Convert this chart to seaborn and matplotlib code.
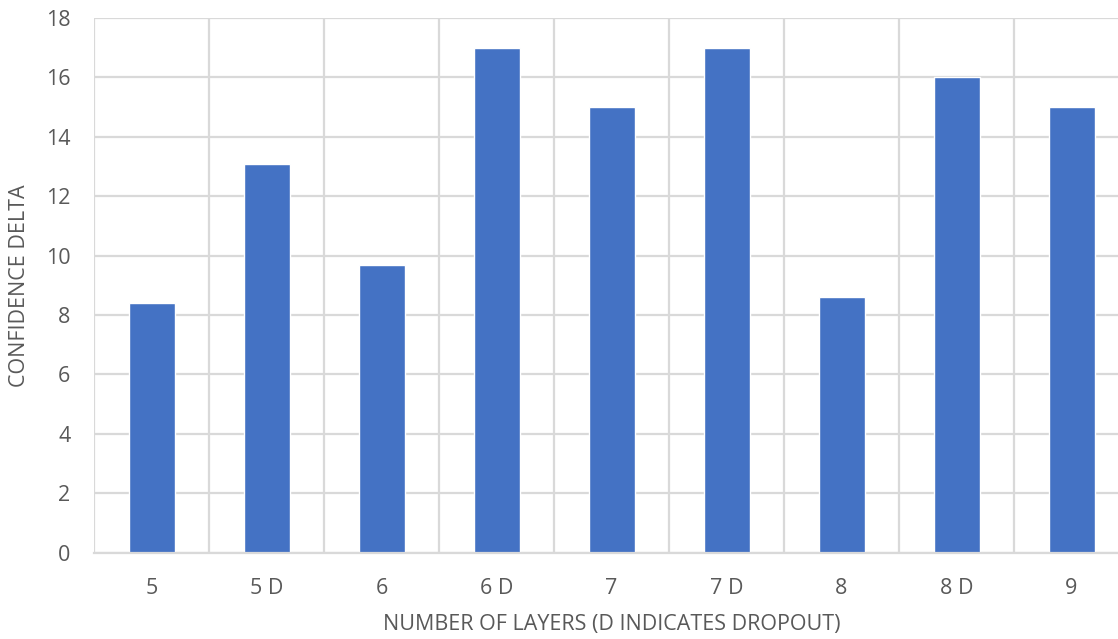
import matplotlib
matplotlib.use("Agg")
import matplotlib.pyplot as plt
import seaborn as sns
import pandas as pd
import numpy as np

categories = ["5", "5 D", "6", "6 D", "7", "7 D", "8", "8 D", "9"]
values = [8.4, 13.1, 9.7, 17.0, 15.0, 17.0, 8.6, 16.0, 15.0]
y_ticks = [0, 2, 4, 6, 8, 10, 12, 14, 16, 18]
x_label = "NUMBER OF LAYERS (D INDICATES DROPOUT)"
y_label = "CONFIDENCE DELTA"

sns.set_theme(style="white")
plt.rcParams["font.family"] = ["Open Sans", "DejaVu Sans"]

df = pd.DataFrame({"cat": categories, "val": values})

fig = plt.figure(figsize=(11.18, 6.39), dpi=100)
ax = fig.add_axes([94 / 1118, (639 - 552.7) / 639, 1035 / 1118, (552.7 - 18) / 639])

sns.barplot(data=df, x="cat", y="val", color="#4472C4", width=0.4, ax=ax,
            saturation=1, zorder=3, order=categories)

text_color = "#595959"
grid_color = "#d9d9d9"

ax.set_ylim(0, 18)
ax.set_yticks(y_ticks)
ax.set_xlim(-0.5, len(categories) - 0.5)
ax.set_xticks(np.arange(-0.5, len(categories), 1.0), minor=True)

ax.grid(axis="y", which="major", color=grid_color, linewidth=1.6, zorder=0)
ax.grid(axis="x", which="minor", color=grid_color, linewidth=1.6, zorder=0)
ax.grid(axis="x", which="major", visible=False)

for s in ["top", "right", "left"]:
    ax.spines[s].set_visible(False)
ax.spines["bottom"].set_color(grid_color)
ax.spines["bottom"].set_linewidth(1.6)
ax.spines["bottom"].set_zorder(4)

fs = 15.5
ax.tick_params(axis="x", which="both", length=0, pad=18, labelsize=fs, labelcolor=text_color)
ax.tick_params(axis="y", which="both", length=0, pad=17, labelsize=fs, labelcolor=text_color)

ax.set_xlabel(x_label, fontsize=fs, color=text_color, labelpad=11)
ax.set_ylabel(y_label, fontsize=fs, color=text_color, labelpad=11)

fig.savefig("out.png", dpi=100)
